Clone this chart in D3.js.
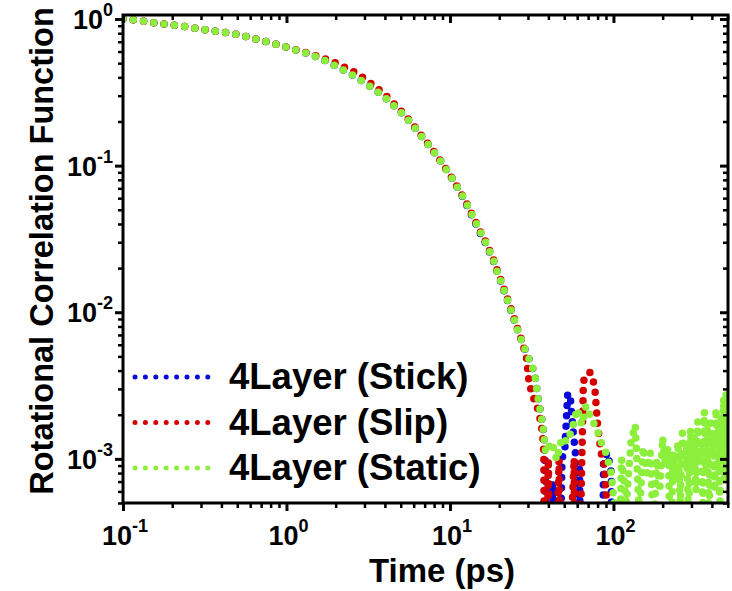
<!DOCTYPE html>
<html>
<head>
<meta charset="utf-8">
<script src="https://cdn.jsdelivr.net/npm/d3@7"></script>
<style>
  body { margin: 0; background: #fff; }
  text { font-family: "Liberation Sans", Arial, sans-serif; font-weight: bold; fill: #000; }
</style>
</head>
<body>
<svg id="chart" width="732" height="591"></svg>
<script>
// smooth decay part, time in ps
const timeDecay = [0.1, 0.118, 0.136, 0.159, 0.183, 0.213, 0.245, 0.285, 0.328, 0.379, 0.44, 0.507,
  0.589, 0.681, 0.792, 0.911, 1.06, 1.23, 1.41, 1.64, 1.89, 2.19, 2.55, 2.94, 3.42, 3.96, 4.58, 5.29,
  6.01, 6.75, 7.6, 8.46, 9.39, 10.3, 11.2, 12.3, 13.2, 14.2, 15.2, 16.4, 17.5, 18.6, 19.6, 20.8,
  22.1, 23.4, 24.7, 26.1, 27.6, 29.3];

const decayStick = [1.0, 0.989, 0.963, 0.940, 0.922, 0.903, 0.885, 0.861, 0.841, 0.822, 0.804, 0.783,
  0.752, 0.720, 0.691, 0.663, 0.630, 0.600, 0.570, 0.534, 0.495, 0.453, 0.413, 0.374, 0.333, 0.295, 0.254, 0.218,
  0.185, 0.157, 0.133, 0.114, 0.096, 0.082, 0.070, 0.058, 0.049, 0.0415, 0.0352, 0.0300, 0.0256, 0.0219, 0.0183, 0.0154,
  0.0127, 0.0106, 0.0089, 0.0074, 0.0063, 0.0053];
const decaySlip = [1.0, 0.989, 0.963, 0.940, 0.922, 0.903, 0.885, 0.861, 0.841, 0.822, 0.804, 0.783,
  0.752, 0.720, 0.691, 0.663, 0.632, 0.604, 0.577, 0.545, 0.515, 0.478, 0.440, 0.398, 0.352, 0.308, 0.262, 0.222,
  0.187, 0.158, 0.134, 0.114, 0.096, 0.082, 0.070, 0.059, 0.050, 0.0425, 0.0362, 0.0308, 0.0262, 0.0224, 0.0188, 0.0158,
  0.0130, 0.0109, 0.0091, 0.0075, 0.0063, 0.0050];
const decayStatic = [1.0, 0.989, 0.963, 0.940, 0.922, 0.903, 0.885, 0.861, 0.841, 0.822, 0.804, 0.783,
  0.752, 0.720, 0.691, 0.663, 0.630, 0.600, 0.570, 0.534, 0.495, 0.453, 0.413, 0.374, 0.333, 0.295, 0.254, 0.218,
  0.185, 0.157, 0.133, 0.114, 0.096, 0.082, 0.070, 0.059, 0.050, 0.0425, 0.0360, 0.0306, 0.0260, 0.0222, 0.0185, 0.0155,
  0.0128, 0.0107, 0.0090, 0.0074, 0.0063, 0.0053];

// noisy tails (values far below the axis floor are drops towards zero)
const tailTimeStick = [31.2, 33.0, 33.8, 34.4, 35, 36, 37, 37.6, 38.3, 39.5, 42.5, 44.5, 48.5, 50.5, 52.5,
  54.5, 56.5, 58.5, 60.5, 62, 64, 84, 87, 92, 97, 100];
const tailStick = [0.0045, 0.0038, 0.0031, 0.0027, 0.0024, 0.0020, 0.0017, 0.0014, 0.0009, 0.00001, 0.0007,
  0.00001, 0.0010, 0.0012, 0.0028, 0.0026, 0.0016, 0.0011, 0.00001, 0.0009, 0.00001, 0.00001, 0.0010,
  0.0011, 0.0008, 0.00001];

const tailTimeSlip = [30.5, 32, 34, 35.5, 36.8, 37.5, 38.3, 40, 41.5, 46.5, 48.5, 57.5, 59, 65.5, 68,
  71.5, 74, 77, 80, 84, 88, 91, 93];
const tailSlip = [0.0033, 0.0027, 0.0023, 0.0019, 0.0015, 0.0011, 0.00001, 0.0010, 0.00001, 0.00098,
  0.00001, 0.0010, 0.00001, 0.0034, 0.0036, 0.0039, 0.0037, 0.0030, 0.0017, 0.0011, 0.0009, 0.0005, 0.00001];

const tailTimeStatic = [31.2, 33.0, 33.8, 34.4, 35, 36, 37, 37.6, 38.5, 40, 42, 45, 48.5, 52, 56, 60, 64,
  68, 73, 79, 84, 90, 97, 101, 104, 112, 120, 128, 136, 144, 152, 160, 168, 176, 184, 192, 200, 208,
  216, 224, 232, 240, 248, 256, 264, 272, 280, 288, 296, 304, 312, 320, 328, 336, 344, 352, 360, 368,
  376, 384, 392, 400, 408, 416, 424, 432, 440, 448, 456, 464, 472, 480, 488, 496, 500];
const tailStatic = [0.0045, 0.0038, 0.0031, 0.0027, 0.0024, 0.0020, 0.0017, 0.0014, 0.0011, 0.0012, 0.0013,
  0.00098, 0.0014, 0.0013, 0.0016, 0.0022, 0.0017, 0.0023, 0.0019, 0.0016, 0.0013, 0.0011, 0.0008, 0.0005,
  0.00002, 0.0010, 0.0005, 0.0013, 0.0017, 0.0004, 0.0012, 0.0008, 0.0011, 0.0003, 0.0010, 0.0006, 0.0014,
  0.0009, 0.0012, 0.0002, 0.0011, 0.0007, 0.0013, 0.0005, 0.0015, 0.0009, 0.0012, 0.0004, 0.0016, 0.0008,
  0.0014, 0.0006, 0.0018, 0.0010, 0.0013, 0.0005, 0.0021, 0.0008, 0.0017, 0.0003, 0.0019, 0.0011, 0.0015,
  0.0006, 0.0022, 0.0009, 0.0018, 0.0004, 0.0020, 0.0012, 0.0026, 0.0007, 0.0028, 0.0015, 0.0024];

const seriesNames = ["4Layer (Stick)", "4Layer (Slip)", "4Layer (Static)"];
const seriesColors = ["#0a0ad8", "#d40000", "#8cef3c"];
const xMajorTicks = [0.1, 1, 10, 100];
const yMajorTicks = [1, 0.1, 0.01, 0.001];
const xTickExp = ["-1", "0", "1", "2"];
const yTickExp = ["0", "-1", "-2", "-3"];

var margin = {top: 15, right: 4, bottom: 88, left: 123},
    width = 732 - margin.left - margin.right,
    height = 591 - margin.top - margin.bottom;

var svg = d3.select("#chart");
var g = svg.append("g").attr("transform", "translate(" + margin.left + "," + margin.top + ")");

var x = d3.scaleLog().domain([0.1, 502]).range([0, width]);
var y = d3.scaleLog().domain([5e-4, 1.065]).range([height, 0]);

// minor ticks 2..9 per decade
function minors(scale) {
  var d = scale.domain(), out = [];
  scale.ticks(40).forEach(function(v) {
    var m = v / Math.pow(10, Math.floor(Math.log10(v) + 1e-9));
    if (Math.abs(m - 1) > 1e-6 && v >= d[0] && v <= d[1]) out.push(v);
  });
  return out;
}

g.append("clipPath").attr("id", "plotClip")
  .append("rect").attr("width", width).attr("height", height);

// series paths, dotted
var series = [
  {t: timeDecay.concat(tailTimeStick), v: decayStick.concat(tailStick)},
  {t: timeDecay.concat(tailTimeSlip), v: decaySlip.concat(tailSlip)},
  {t: timeDecay.concat(tailTimeStatic), v: decayStatic.concat(tailStatic)}
];

var line = d3.line()
  .x(function(d) { return x(d[0]); })
  .y(function(d) { return y(d[1]); });

g.append("g").attr("clip-path", "url(#plotClip)")
  .selectAll("path")
  .data(series)
  .enter().append("path")
  .attr("d", function(s) { return line(s.t.map(function(t, i) { return [t, s.v[i]]; })); })
  .attr("fill", "none")
  .attr("stroke", function(s, i) { return seriesColors[i]; })
  .attr("stroke-width", 7.5)
  .attr("stroke-linecap", "round")
  .attr("stroke-dasharray", "0 10.35");

// axes: outward on bottom/left, inward on top/right
function styleAxis(sel, w) {
  sel.select(".domain").remove();
  sel.selectAll("line").attr("stroke", "#000").attr("stroke-width", w);
  sel.selectAll("text").remove();
}

g.append("g").attr("transform", "translate(0," + height + ")")
  .call(d3.axisBottom(x).tickValues(xMajorTicks).tickSize(8)).call(styleAxis, 3);
g.append("g").attr("transform", "translate(0," + height + ")")
  .call(d3.axisBottom(x).tickValues(minors(x)).tickSize(5)).call(styleAxis, 2.5);
g.append("g")
  .call(d3.axisTop(x).tickValues(xMajorTicks).tickSize(-8)).call(styleAxis, 3);
g.append("g")
  .call(d3.axisTop(x).tickValues(minors(x)).tickSize(-5)).call(styleAxis, 2.5);

g.append("g")
  .call(d3.axisLeft(y).tickValues(yMajorTicks).tickSize(8)).call(styleAxis, 3);
g.append("g")
  .call(d3.axisLeft(y).tickValues(minors(y)).tickSize(5)).call(styleAxis, 2.5);
g.append("g").attr("transform", "translate(" + width + ",0)")
  .call(d3.axisRight(y).tickValues(yMajorTicks).tickSize(-8)).call(styleAxis, 3);
g.append("g").attr("transform", "translate(" + width + ",0)")
  .call(d3.axisRight(y).tickValues(minors(y)).tickSize(-5)).call(styleAxis, 2.5);

// frame
g.append("rect")
  .attr("width", width).attr("height", height)
  .attr("fill", "none").attr("stroke", "#000").attr("stroke-width", 3);

// tick labels as 10^n
var xl = g.selectAll(".xlab").data(xMajorTicks).enter().append("text")
  .attr("class", "xlab")
  .attr("x", function(d) { return x(d) + 2; })
  .attr("y", height + 42)
  .attr("text-anchor", "middle")
  .style("font-size", "27px");
xl.append("tspan").text("10");
xl.append("tspan").attr("dy", -13).style("font-size", "18px").text(function(d, i) { return xTickExp[i]; });

var yl = g.selectAll(".ylab").data(yMajorTicks).enter().append("text")
  .attr("class", "ylab")
  .attr("x", -10)
  .attr("y", function(d) { return y(d) + 10; })
  .attr("text-anchor", "end")
  .style("font-size", "27px");
yl.append("tspan").text("10");
yl.append("tspan").attr("dy", -13).style("font-size", "18px").text(function(d, i) { return yTickExp[i]; });

// axis titles
svg.append("text")
  .attr("x", 442).attr("y", 582)
  .attr("text-anchor", "middle")
  .style("font-size", "33px")
  .text("Time (ps)");

svg.append("text")
  .attr("transform", "translate(53,251) rotate(-90)")
  .attr("text-anchor", "middle")
  .style("font-size", "32.5px")
  .text("Rotational Correlation Function");

// legend
var legend = g.selectAll(".legend").data(seriesNames).enter().append("g")
  .attr("class", "legend")
  .attr("transform", function(d, i) { return "translate(12," + (362 + i * 45.5) + ")"; });

legend.append("line")
  .attr("x1", 0).attr("x2", 74)
  .attr("stroke", function(d, i) { return seriesColors[i]; })
  .attr("stroke-width", 5)
  .attr("stroke-linecap", "round")
  .attr("stroke-dasharray", "0 10.4");

legend.append("text")
  .attr("x", 94).attr("y", 12)
  .style("font-size", "36.5px")
  .text(function(d) { return d; });
</script>
</body>
</html>
